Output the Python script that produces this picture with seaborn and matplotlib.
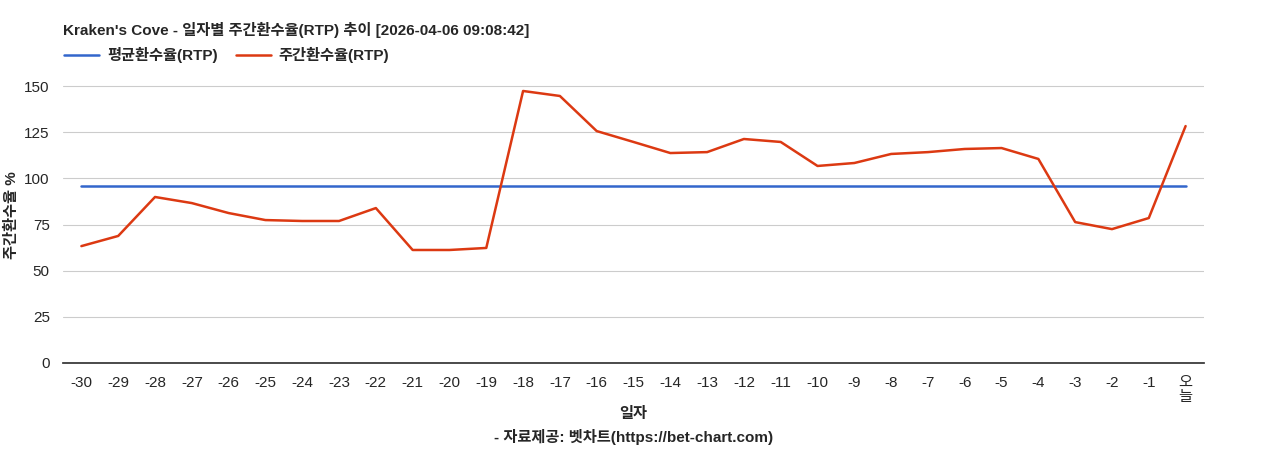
import matplotlib
matplotlib.use("Agg")
import matplotlib.pyplot as plt
import seaborn as sns
import pandas as pd

sns.set_theme(style="white")
plt.rcParams['font.family'] = ['Liberation Sans', 'Noto Sans CJK KR', 'DejaVu Sans']
plt.rcParams['axes.unicode_minus'] = False

days = [str(d) for d in range(-30, 0)] + ["오\n늘"]
weekly_rtp = [63.3, 68.8, 89.9, 86.6, 81.2, 77.4, 76.9, 76.9, 83.9, 61.2,
              61.2, 62.3, 147.3, 144.6, 125.6, 119.7, 113.7, 114.2, 121.3, 119.7,
              106.7, 108.3, 113.2, 114.2, 115.9, 116.4, 110.5, 76.3, 72.5, 78.5,
              128.3]
avg_rtp = 95.8

df = pd.DataFrame({"x": range(len(days)), "weekly": weekly_rtp, "avg": [avg_rtp] * len(days)})

fig = plt.figure(figsize=(12.68, 4.5), dpi=100)
ax = fig.add_axes([63 / 1268, 1 - 363 / 450, (1204 - 63) / 1268, (363 - 86) / 450 * 160 / 150])

sns.lineplot(data=df, x="x", y="avg", ax=ax, color="#3366cc", linewidth=1.8, label="평균환수율(RTP)")
sns.lineplot(data=df, x="x", y="weekly", ax=ax, color="#dc3912", linewidth=1.8, label="주간환수율(RTP)")

ax.set_ylim(0, 160)
ax.set_yticks([0, 25, 50, 75, 100, 125, 150])
ax.set_xlim(-0.5, len(days) - 0.5)
ax.set_xticks(range(len(days)))
ax.set_xticklabels(days, fontsize=11, linespacing=1.0)
ax.tick_params(axis='y', labelsize=11)
ax.grid(axis='y', color='#cccccc', linewidth=0.8)
for s in ['top', 'right', 'left']:
    ax.spines[s].set_visible(False)
ax.spines['bottom'].set_color('#333333')
ax.set_ylabel("주간환수율 %", fontsize=11, fontweight='bold')
ax.set_xlabel("")

fig.text((63 + 1204) / 2 / 1268, 1 - 414 / 450, "일자", fontsize=11, fontweight='bold', ha='center', va='center')
fig.text((63 + 1204) / 2 / 1268, 1 - 437 / 450, "- 자료제공: 벳차트(https://bet-chart.com)",
         fontsize=11, fontweight='bold', ha='center', va='center')
fig.text(63 / 1268, 1 - 30 / 450, "Kraken's Cove - 일자별 주간환수율(RTP) 추이 [2026-04-06 09:08:42]",
         fontsize=11, fontweight='bold', va='center')
ax.legend(loc='lower left', bbox_to_anchor=(-0.003, 1.0), ncol=2, frameon=False,
          prop={'size': 11, 'weight': 'bold'}, handlelength=2.3, handletextpad=0.5,
          columnspacing=1.2, borderaxespad=0.2, borderpad=0.1)

fig.savefig("out.png", dpi=100)
